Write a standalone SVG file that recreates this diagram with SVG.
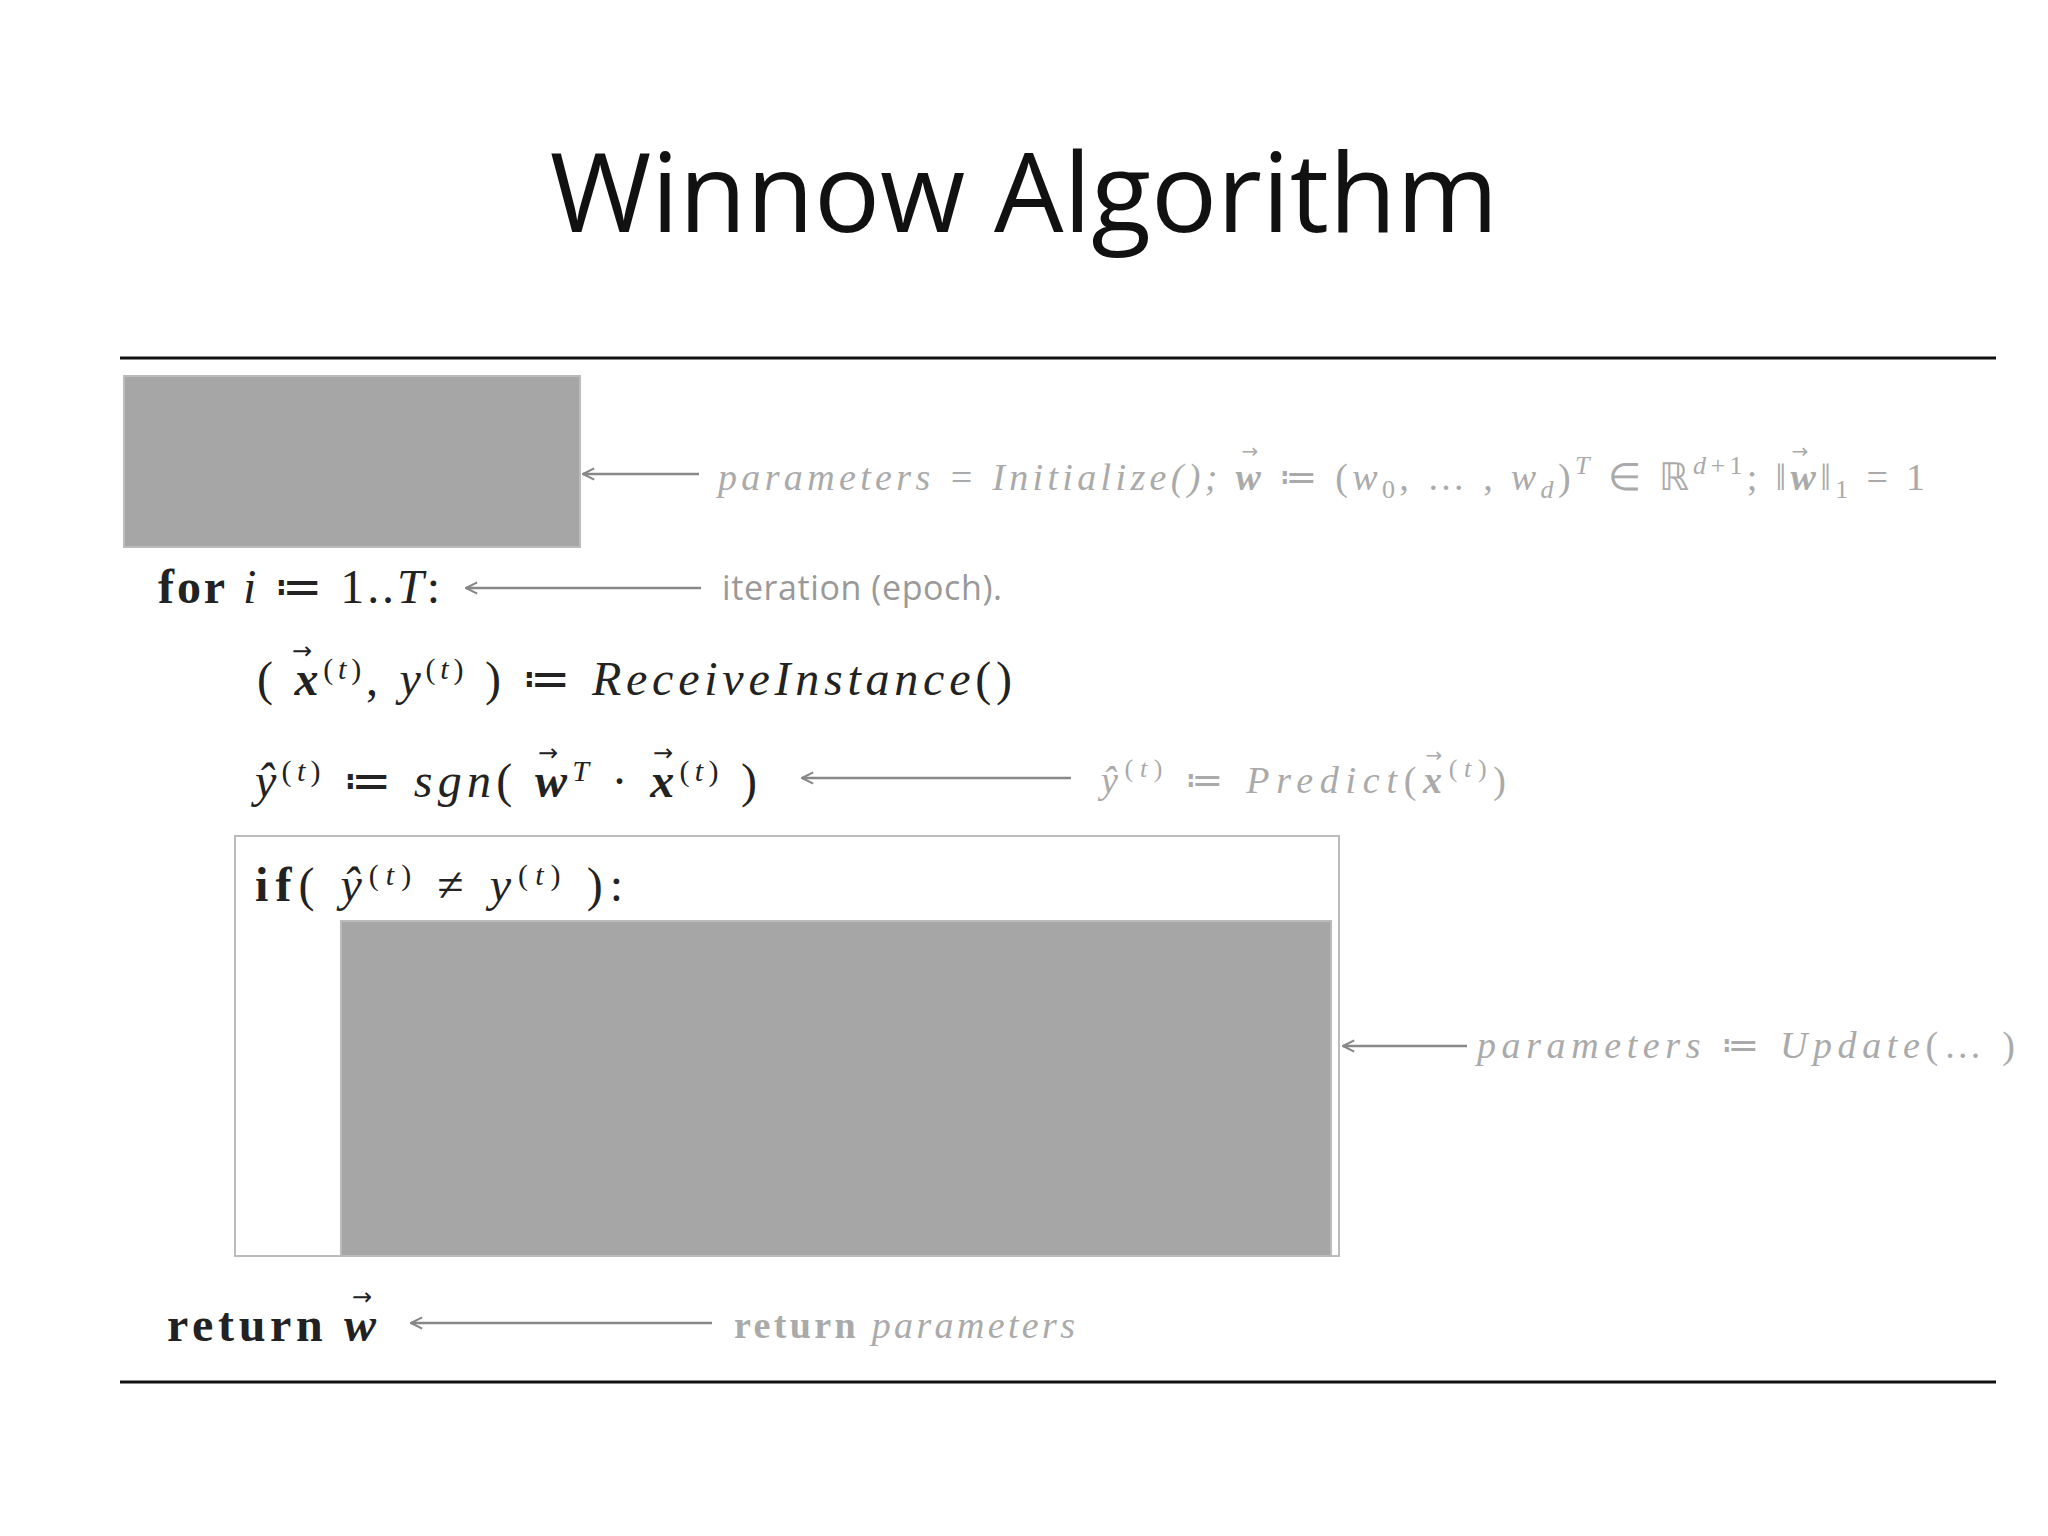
<svg xmlns="http://www.w3.org/2000/svg" width="2048" height="1536" viewBox="0 0 2048 1536">
<style>
.m{font-family:"Liberation Serif",serif;font-size:48px;fill:#222}
.mi{font-style:italic}
.g{font-family:"Liberation Serif",serif;font-style:italic;font-size:38px;fill:#aaa}
.s{font-family:"Open Sans",sans-serif;font-size:34px;fill:#999}
.ar{stroke:#888;stroke-width:2.5;fill:none;marker-end:url(#h)}
.sup{font-size:30px}
.va{font-family:"DejaVu Sans",sans-serif;font-size:24px;text-anchor:middle;fill:#222}
.vg{font-family:"DejaVu Sans",sans-serif;font-size:20px;text-anchor:middle;fill:#aaa}
</style>
<defs><marker id="h" viewBox="0 0 20 20" refX="18" refY="10" markerWidth="14" markerHeight="14" orient="auto" markerUnits="userSpaceOnUse"><path d="M2,2 L18,10 L2,18" fill="none" stroke="#888" stroke-width="3"/></marker></defs>
<rect width="2048" height="1536" fill="#fff"/>
<text x="1024" y="232" text-anchor="middle" font-family="Open Sans,sans-serif" font-size="110" fill="#111">Winnow Algorithm</text>
<line x1="120" y1="358" x2="1996" y2="358" stroke="#111" stroke-width="3"/>
<line x1="120" y1="1382" x2="1996" y2="1382" stroke="#111" stroke-width="3"/>
<g id="init"><rect x="124" y="376" width="456" height="171" fill="#a6a6a6" stroke="#bbb" stroke-width="2"/></g>
<g id="ifbox"><rect x="235" y="836" width="1104" height="420" fill="none" stroke="#bbb" stroke-width="2"/>
<text x="255" y="901" class="m" textLength="368" lengthAdjust="spacing"><tspan font-weight="bold">if</tspan>(  <tspan class="mi">ŷ</tspan><tspan class="sup" dy="-16">(<tspan class="mi">t</tspan>)</tspan><tspan dy="16"> ≠ </tspan><tspan class="mi">y</tspan><tspan class="sup" dy="-16">(<tspan class="mi">t</tspan>)</tspan><tspan dy="16"> ):</tspan></text></g>
<g id="update"><rect x="341" y="921" width="990" height="335" fill="#a6a6a6" stroke="#bbb" stroke-width="2"/></g>
<g id="for"><text x="158" y="603" class="m" textLength="282" lengthAdjust="spacing"><tspan font-weight="bold">for</tspan> <tspan class="mi">i</tspan> ≔ 1..<tspan class="mi">T</tspan>:</text></g>
<g id="receive"><text x="257" y="695" class="m" textLength="755" lengthAdjust="spacing">(  <tspan font-weight="bold" font-style="italic">x</tspan><tspan class="sup" dy="-16">(<tspan class="mi">t</tspan>)</tspan><tspan dy="16">, </tspan><tspan class="mi">y</tspan><tspan class="sup" dy="-16">(<tspan class="mi">t</tspan>)</tspan><tspan dy="16"> ) ≔ </tspan><tspan class="mi">ReceiveInstance</tspan>()</text>
<text x="302" y="659" class="va">→</text></g>
<g id="predict"><text x="255" y="797" class="m" textLength="502" lengthAdjust="spacing"><tspan class="mi">ŷ</tspan><tspan class="sup" dy="-16">(<tspan class="mi">t</tspan>)</tspan><tspan dy="16"> ≔ </tspan><tspan class="mi">sgn</tspan>(  <tspan font-weight="bold" font-style="italic">w</tspan><tspan class="sup mi" dy="-16">T</tspan><tspan dy="16"> · </tspan><tspan font-weight="bold" font-style="italic">x</tspan><tspan class="sup" dy="-16">(<tspan class="mi">t</tspan>)</tspan><tspan dy="16"> )</tspan></text>
<text x="548" y="761" class="va">→</text><text x="663" y="761" class="va">→</text></g>
<g id="return"><text x="167" y="1341" class="m" textLength="209" lengthAdjust="spacing"><tspan font-weight="bold">return</tspan>  <tspan font-weight="bold" font-style="italic">w</tspan></text>
<text x="362" y="1305" class="va">→</text></g>
<g id="connectors">
<line class="ar" x1="699" y1="474" x2="583" y2="474"/>
<line class="ar" x1="701" y1="588" x2="466" y2="588"/>
<line class="ar" x1="1071" y1="778" x2="802" y2="778"/>
<line class="ar" x1="1467" y1="1046" x2="1343" y2="1046"/>
<line class="ar" x1="712" y1="1323" x2="411" y2="1323"/>
</g>
<g id="labels">
<text x="718" y="490" class="g" textLength="1207" lengthAdjust="spacing">parameters = Initialize(); <tspan font-weight="bold">w</tspan><tspan font-style="normal"> ≔ (</tspan>w<tspan font-size="26" dy="8" font-style="normal">0</tspan><tspan dy="-8" font-style="normal">, … , </tspan>w<tspan font-size="26" dy="8">d</tspan><tspan dy="-8" font-style="normal">)</tspan><tspan font-size="26" dy="-16">T</tspan><tspan dy="16" font-style="normal"> ∈ ℝ</tspan><tspan font-size="26" dy="-16">d<tspan font-style="normal">+1</tspan></tspan><tspan dy="16" font-style="normal">;  ‖</tspan><tspan font-weight="bold">w</tspan><tspan font-style="normal">‖</tspan><tspan font-size="26" dy="8" font-style="normal">1</tspan><tspan dy="-8" font-style="normal"> = 1</tspan></text>
<text x="1250" y="458" class="vg">→</text><text x="1800" y="458" class="vg">→</text>
<text x="722" y="600" class="s" textLength="280" lengthAdjust="spacing">iteration (epoch).</text>
<text x="1101" y="793" class="g" textLength="405" lengthAdjust="spacing">ŷ<tspan font-size="26" dy="-16" font-style="normal">(<tspan font-style="italic">t</tspan>)</tspan><tspan dy="16" font-style="normal"> ≔ </tspan>Predict<tspan font-style="normal">(</tspan><tspan font-weight="bold">x</tspan><tspan font-size="26" dy="-16" font-style="normal">(<tspan font-style="italic">t</tspan>)</tspan><tspan dy="16" font-style="normal">)</tspan></text>
<text x="1434" y="762" class="vg">→</text>
<text x="1477" y="1058" class="g" textLength="538" lengthAdjust="spacing">parameters <tspan font-style="normal">≔</tspan> Update<tspan font-style="normal">(… )</tspan></text>
<text x="734" y="1338" class="g" textLength="341" lengthAdjust="spacing"><tspan font-weight="bold" font-style="normal">return</tspan> parameters</text>
</g>
</svg>
